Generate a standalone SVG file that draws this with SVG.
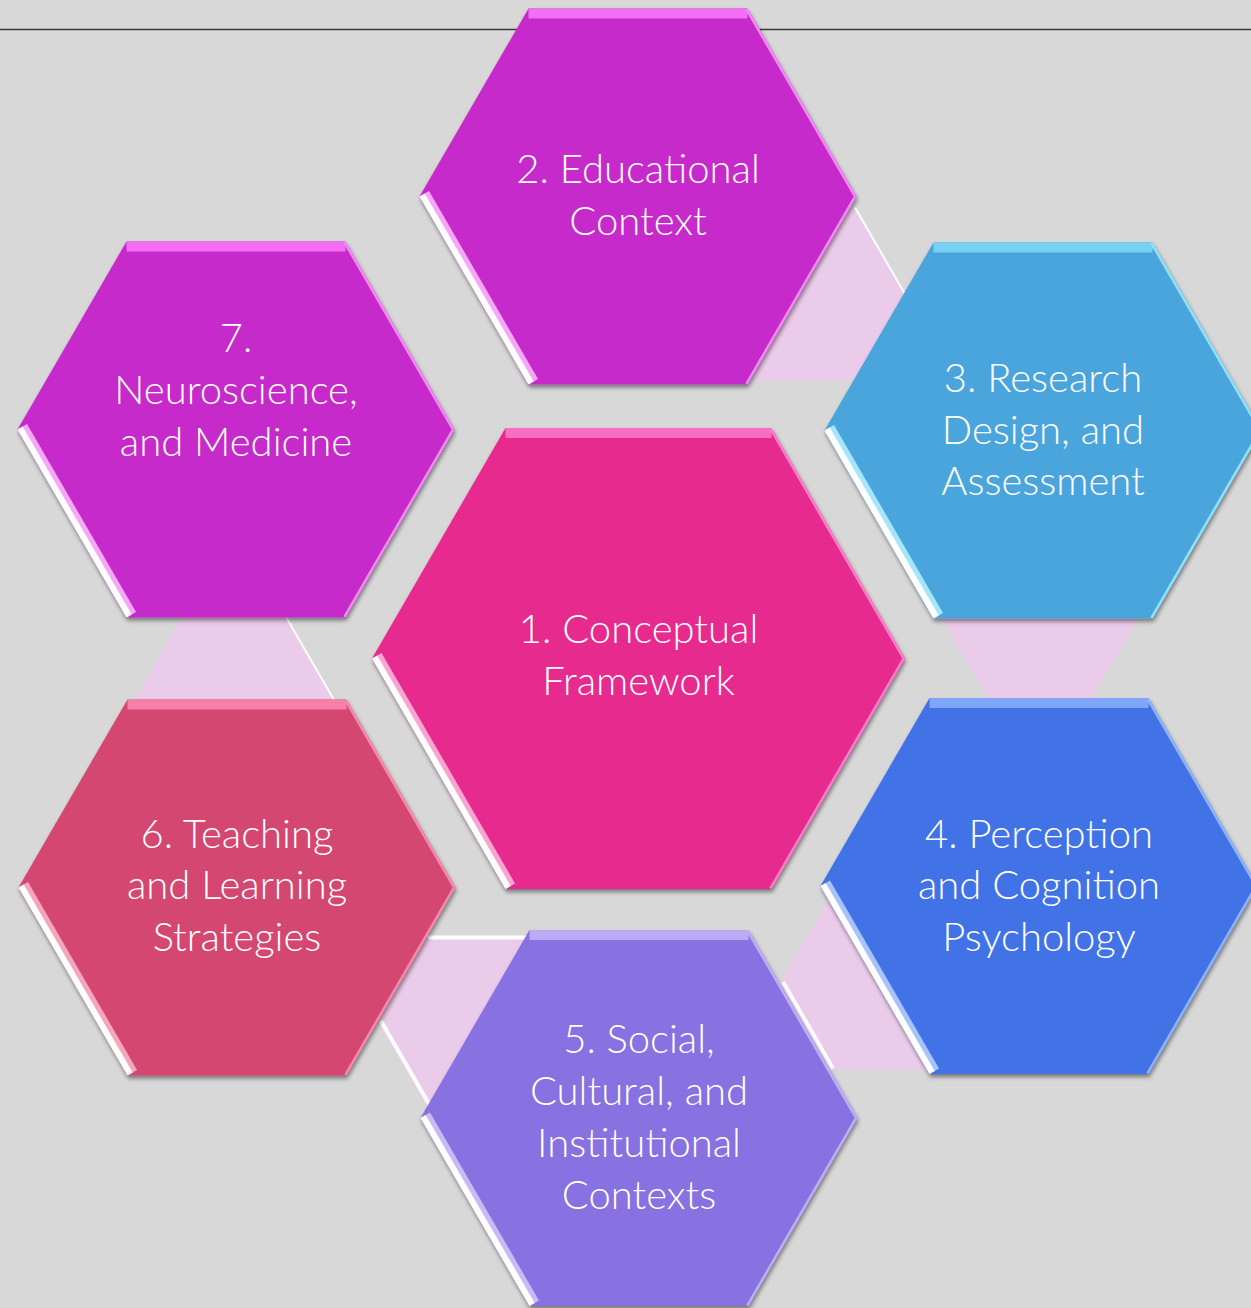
<svg xmlns="http://www.w3.org/2000/svg" xmlns:xlink="http://www.w3.org/1999/xlink" width="1251" height="1308" viewBox="0 0 1251 1308">
<style>
.lbl{font-family:"Lato","Liberation Sans",sans-serif;font-weight:300;font-size:40px;fill:#FFFFFF;text-anchor:middle}
.conn{fill:#EBCBEA}
.hl{stroke:#FFFFFF;fill:none}
.ws{stroke:#FFFFFF;stroke-width:12}
.tb{stroke-width:20;stroke-opacity:0.8}
.gl{stroke-width:22}
.re{fill:none;stroke-width:5}
</style>
<defs>
<polygon id="hexO" points="-218.5,0 -109.5,-188 109.5,-188 218.5,0 109.5,188 -109.5,188"/>
<polygon id="hexC" points="-266.5,0 -133,-230.5 133,-230.5 266.5,0 133,230.5 -133,230.5"/>
<polygon id="hexS" points="-100,0 -50,-86.6 50,-86.6 100,0 50,86.6 -50,86.6"/>
<clipPath id="clipO"><use xlink:href="#hexO"/></clipPath>
<clipPath id="clipC"><use xlink:href="#hexC"/></clipPath>
<filter id="shadow" x="-10%" y="-10%" width="120%" height="125%">
<feDropShadow dx="1" dy="3" stdDeviation="2" flood-color="#000000" flood-opacity="0.45"/>
</filter>
</defs>
<rect x="0" y="0" width="1251" height="1308" fill="#D8D8D8"/>
<line x1="0" y1="29.5" x2="1251" y2="29.5" stroke="#3A3A3A" stroke-width="1.5"/>

<g id="connectors">
<g transform="translate(805,294)">
<use xlink:href="#hexS" class="conn"/>
<line class="hl" x1="50" y1="-86.6" x2="100" y2="0" stroke-width="2"/>
</g>
<g transform="translate(1040,615)">
<use xlink:href="#hexS" class="conn"/>
<line class="hl" x1="-50" y1="-86.6" x2="-100" y2="0" stroke-width="6" stroke-opacity="0.9" transform="translate(3,0)"/>
<line class="hl" x1="50" y1="-86.6" x2="100" y2="0" stroke-width="2" transform="translate(-1,0)"/>
</g>
<g transform="translate(880,983)">
<use xlink:href="#hexS" class="conn"/>
<line class="hl" x1="-100" y1="0" x2="-50" y2="86.6" stroke-width="4" transform="translate(3,-1)"/>
</g>
<g transform="translate(478,1022)">
<use xlink:href="#hexS" class="conn"/>
<line class="hl" x1="-50" y1="-86.6" x2="50" y2="-86.6" stroke-width="4" transform="translate(0,2)"/>
<line class="hl" x1="-100" y1="0" x2="-50" y2="86.6" stroke-width="4" transform="translate(3,-1)"/>
</g>
<g transform="translate(234,700)">
<use xlink:href="#hexS" class="conn"/>
<line class="hl" x1="50" y1="-86.6" x2="100" y2="0" stroke-width="2"/>
</g>
</g>

<g id="hex2" transform="translate(638,196.5)">
<use xlink:href="#hexO" fill="#C72CCB" filter="url(#shadow)"/>
<g clip-path="url(#clipO)">
<line class="tb" x1="-109.5" y1="-188" x2="109.5" y2="-188" stroke="#FF80FF"/>
<line class="gl" x1="-218.5" y1="0" x2="-109.5" y2="188" stroke="#F4A8F6"/>
<line class="ws" x1="-218.5" y1="0" x2="-109.5" y2="188"/>
<polyline class="re" points="109.5,-188 218.5,0 109.5,188" stroke="#F08BF2"/>
</g>
<text class="lbl" x="0" y="-13.5">2. Educational</text>
<text class="lbl" x="0" y="38.5">Context</text>
</g>

<g id="hex3" transform="translate(1043,430.5)">
<use xlink:href="#hexO" fill="#4BA5DD" filter="url(#shadow)"/>
<g clip-path="url(#clipO)">
<line class="tb" x1="-109.5" y1="-188" x2="109.5" y2="-188" stroke="#7FDDFA"/>
<line class="gl" x1="-218.5" y1="0" x2="-109.5" y2="188" stroke="#A6E6FB"/>
<line class="ws" x1="-218.5" y1="0" x2="-109.5" y2="188"/>
<polyline class="re" points="109.5,-188 218.5,0 109.5,188" stroke="#8EE3FB"/>
</g>
<text class="lbl" x="0" y="-38.5">3. Research</text>
<text class="lbl" x="0" y="13.5">Design, and</text>
<text class="lbl" x="0" y="64.5">Assessment</text>
</g>

<g id="hex4" transform="translate(1039,886)">
<use xlink:href="#hexO" fill="#4373E6" filter="url(#shadow)"/>
<g clip-path="url(#clipO)">
<line class="tb" x1="-109.5" y1="-188" x2="109.5" y2="-188" stroke="#8FB3FF"/>
<line class="gl" x1="-218.5" y1="0" x2="-109.5" y2="188" stroke="#A9C3FA"/>
<line class="ws" x1="-218.5" y1="0" x2="-109.5" y2="188"/>
<polyline class="re" points="109.5,-188 218.5,0 109.5,188" stroke="#8FB3FF"/>
</g>
<text class="lbl" x="0" y="-38">4. Perception</text>
<text class="lbl" x="0" y="13">and Cognition</text>
<text class="lbl" x="0" y="65">Psychology</text>
</g>

<g id="hex5" transform="translate(639,1118)">
<use xlink:href="#hexO" fill="#8871E0" filter="url(#shadow)"/>
<g clip-path="url(#clipO)">
<line class="tb" x1="-109.5" y1="-188" x2="109.5" y2="-188" stroke="#C9B9FA"/>
<line class="gl" x1="-218.5" y1="0" x2="-109.5" y2="188" stroke="#C7BAF5"/>
<line class="ws" x1="-218.5" y1="0" x2="-109.5" y2="188"/>
<polyline class="re" points="109.5,-188 218.5,0 109.5,188" stroke="#BCAEF7"/>
</g>
<text class="lbl" x="0" y="-65">5. Social,</text>
<text class="lbl" x="0" y="-13">Cultural, and</text>
<text class="lbl" x="0" y="39">Institutional</text>
<text class="lbl" x="0" y="91">Contexts</text>
</g>

<g id="hex6" transform="translate(237,887.5)">
<use xlink:href="#hexO" fill="#D4466F" filter="url(#shadow)"/>
<g clip-path="url(#clipO)">
<line class="tb" x1="-109.5" y1="-188" x2="109.5" y2="-188" stroke="#FF8FB8"/>
<line class="gl" x1="-218.5" y1="0" x2="-109.5" y2="188" stroke="#F3A6BE"/>
<line class="ws" x1="-218.5" y1="0" x2="-109.5" y2="188"/>
<polyline class="re" points="109.5,-188 218.5,0 109.5,188" stroke="#F48AAD"/>
</g>
<text class="lbl" x="0" y="-39.5">6. Teaching</text>
<text class="lbl" x="0" y="11.5">and Learning</text>
<text class="lbl" x="0" y="63.5">Strategies</text>
</g>

<g id="hex7" transform="translate(236,429.5)">
<use xlink:href="#hexO" fill="#C72CCB" filter="url(#shadow)"/>
<g clip-path="url(#clipO)">
<line class="tb" x1="-109.5" y1="-188" x2="109.5" y2="-188" stroke="#FF80FF"/>
<line class="gl" x1="-218.5" y1="0" x2="-109.5" y2="188" stroke="#F4A8F6"/>
<line class="ws" x1="-218.5" y1="0" x2="-109.5" y2="188"/>
<polyline class="re" points="109.5,-188 218.5,0 109.5,188" stroke="#F08BF2"/>
</g>
<text class="lbl" x="0" y="-77.5">7.</text>
<text class="lbl" x="0" y="-25.5">Neuroscience,</text>
<text class="lbl" x="0" y="26.5">and Medicine</text>
</g>

<g id="hex1" transform="translate(638.5,658.5)">
<use xlink:href="#hexC" fill="#E6298E" filter="url(#shadow)"/>
<g clip-path="url(#clipC)">
<line class="tb" x1="-133" y1="-230.5" x2="133" y2="-230.5" stroke="#FF80D0"/>
<line class="gl" x1="-266.5" y1="0" x2="-133" y2="230.5" stroke="#F7A6D2"/>
<line class="ws" x1="-266.5" y1="0" x2="-133" y2="230.5"/>
<polyline class="re" points="133,-230.5 266.5,0 133,230.5" stroke="#FF7EC9"/>
</g>
<text class="lbl" x="0" y="-15.5">1. Conceptual</text>
<text class="lbl" x="0" y="36.5">Framework</text>
</g>
</svg>
